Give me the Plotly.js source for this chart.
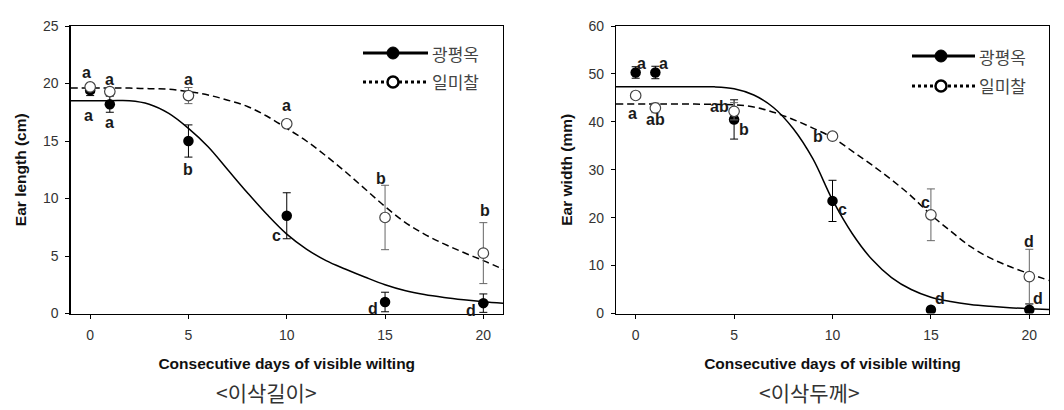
<!DOCTYPE html>
<html>
<head>
<meta charset="utf-8">
<script src="https://cdn.plot.ly/plotly-3.0.1.min.js"></script>
<style>html,body{margin:0;padding:0;background:#fff;}#chart{width:1064px;height:410px;}</style>
</head>
<body>
<div id="chart"></div>
<script>
// ---------- data ----------
const days = [0, 1, 5, 10, 15, 20];
const seriesNames = ['광평옥', '일미찰'];

// Ear length (cm)
const lenKPO = [19.4, 18.2, 15.0, 8.5, 1.0, 0.9];
const lenKPOErr = [0.45, 0.7, 1.4, 2.0, 0.85, 0.8];
const lenIMC = [19.7, 19.3, 18.95, 16.5, 8.35, 5.25];
const lenIMCErr = [0.3, 0.3, 0.7, 0.3, 2.8, 2.65];
const lenKPOLetters = ['a', 'a', 'b', 'c', 'd', 'd'];
const lenIMCLetters = ['a', 'a', 'a', 'a', 'b', 'b'];

// Ear width (mm)
const widKPO = [50.3, 50.3, 40.5, 23.5, 0.8, 0.8];
const widKPOErr = [1.2, 1.3, 4.1, 4.3, 0.5, 1.2];
const widIMC = [45.5, 42.9, 42.2, 37.0, 20.6, 7.7];
const widIMCErr = [0.5, 1.0, 1.8, 0.6, 5.4, 5.7];
const widKPOLetters = ['a', 'a', 'b', 'c', 'd', 'd'];
const widIMCLetters = ['a', 'ab', 'ab', 'b', 'c', 'd'];

// fitted curves
const lenFitKPOx = [-1, 1, 2, 3, 4, 5, 6, 7, 8, 9, 10, 11, 12, 13, 14, 15, 16, 17, 18, 19, 20, 21];
const lenFitKPOy = [18.5, 18.5, 18.5, 18.2, 17.4, 16.1, 14.5, 12.5, 10.5, 8.6, 6.9, 5.6, 4.6, 3.85, 3.15, 2.5, 2.0, 1.65, 1.4, 1.2, 1.03, 0.9];
const lenFitIMCx = [-1, 1, 2, 3, 4, 5, 6, 7, 8, 9, 10, 11, 12, 13, 14, 15, 16, 17, 18, 19, 20, 21];
const lenFitIMCy = [19.6, 19.6, 19.6, 19.55, 19.5, 19.3, 19.0, 18.55, 18.0, 17.15, 16.1, 15.0, 13.7, 12.3, 10.8, 9.3, 7.95, 6.9, 6.05, 5.3, 4.6, 3.85];
const widFitKPOx = [-1, 1, 2, 3, 4, 5, 6, 7, 8, 9, 10, 11, 12, 13, 14, 15, 16, 17, 18, 19, 20, 21];
const widFitKPOy = [47.3, 47.3, 47.3, 47.3, 47.3, 46.9, 45.6, 43.0, 38.6, 32.3, 23.7, 16.7, 11.3, 7.5, 5.0, 3.4, 2.5, 1.9, 1.5, 1.2, 1.0, 0.85];
const widFitIMCx = [-1, 1, 2, 3, 4, 5, 6, 7, 8, 9, 10, 11, 12, 13, 14, 15, 16, 17, 18, 19, 20, 21];
const widFitIMCy = [43.7, 43.7, 43.7, 43.7, 43.65, 43.55, 43.1, 42.0, 40.5, 38.7, 36.7, 33.9, 31.0, 27.9, 24.5, 20.6, 17.2, 14.0, 11.6, 9.8, 8.3, 6.9];

// tick labels
const xTicks = [0, 5, 10, 15, 20];
const lenTicks = [0, 5, 10, 15, 20, 25];
const widTicks = [0, 10, 20, 30, 40, 50, 60];

// ---------- styling / layout helpers (not data) ----------
const lenKPOOff = [[-2,-25],[0,-18],[0,-28],[-10,-20],[-12,-6],[-12,-7]];
const lenIMCOff = [[-4,14],[0,12],[0,16],[0,18],[-4,39],[2,43]];
const widKPOOff = [[6,9],[8,9],[10,-10],[10,-9],[9,11],[9,11]];
const widIMCOff = [[-3,-18],[0,-12],[-15,5],[-15,0],[-5,12],[0,35]];

const FONT = 'Liberation Sans, Arial, sans-serif';
const KFONT = 'Noto Sans CJK KR, sans-serif';

function curve(x, y, xa, ya, dash) {
  return {x: x, y: y, xaxis: xa, yaxis: ya, mode: 'lines', type: 'scatter',
    line: {color: '#000', width: 1.5, shape: 'spline', smoothing: 1, dash: dash},
    hoverinfo: 'skip', showlegend: false};
}
function pts(y, err, xa, ya, filled, name) {
  return {x: days, y: y, xaxis: xa, yaxis: ya, mode: 'markers', type: 'scatter', name: name,
    marker: {size: 10.5, color: filled ? '#000' : '#fff', line: {color: filled ? '#000' : '#444', width: filled ? 0 : 1.2}},
    error_y: {type: 'data', array: err, visible: true, color: filled ? '#000' : '#666', thickness: 1, width: 4},
    showlegend: false};
}
const traces = [
  curve(lenFitKPOx, lenFitKPOy, 'x', 'y', 'solid'),
  curve(lenFitIMCx, lenFitIMCy, 'x', 'y', '7px,4px'),
  pts(lenKPO, lenKPOErr, 'x', 'y', true, seriesNames[0]),
  pts(lenIMC, lenIMCErr, 'x', 'y', false, seriesNames[1]),
  curve(widFitKPOx, widFitKPOy, 'x2', 'y2', 'solid'),
  curve(widFitIMCx, widFitIMCy, 'x2', 'y2', '7px,4px'),
  pts(widKPO, widKPOErr, 'x2', 'y2', true, seriesNames[0]),
  pts(widIMC, widIMCErr, 'x2', 'y2', false, seriesNames[1])
];

const annotations = [];
function letters(vals, labs, offs, xr, yr) {
  for (let i = 0; i < days.length; i++) {
    annotations.push({x: days[i], y: vals[i], xref: xr, yref: yr, text: labs[i], showarrow: false,
      xshift: offs[i][0], yshift: offs[i][1], xanchor: 'center', yanchor: 'middle',
      font: {family: FONT, size: 16, color: '#1a1a1a', weight: 'bold'}});
  }
}
letters(lenKPO, lenKPOLetters, lenKPOOff, 'x', 'y');
letters(lenIMC, lenIMCLetters, lenIMCOff, 'x', 'y');
letters(widKPO, widKPOLetters, widKPOOff, 'x2', 'y2');
letters(widIMC, widIMCLetters, widIMCOff, 'x2', 'y2');

// captions
annotations.push({x: 266/1064, y: 1 - 392/410, xref: 'paper', yref: 'paper', text: '<이삭길이>', showarrow: false,
  xanchor: 'center', yanchor: 'middle', font: {family: KFONT, size: 21, color: '#333'}});
annotations.push({x: 809/1064, y: 1 - 392/410, xref: 'paper', yref: 'paper', text: '<이삭두께>', showarrow: false,
  xanchor: 'center', yanchor: 'middle', font: {family: KFONT, size: 21, color: '#333'}});

// custom legends (paper coordinates)
const shapes = [];
function legend(x0, x1, xm, y1, y2) {
  const px = v => v / 1064, py = v => 1 - v / 410;
  shapes.push({type: 'line', xref: 'paper', yref: 'paper', x0: px(x0), x1: px(x1), y0: py(y1), y1: py(y1), line: {color: '#000', width: 3}});
  shapes.push({type: 'circle', xref: 'paper', yref: 'paper', xsizemode: 'pixel', ysizemode: 'pixel',
    xanchor: px(xm), yanchor: py(y1), x0: -6, x1: 6, y0: -6, y1: 6, fillcolor: '#000', line: {color: '#000', width: 1}});
  shapes.push({type: 'line', xref: 'paper', yref: 'paper', x0: px(x0), x1: px(x1), y0: py(y2), y1: py(y2), line: {color: '#000', width: 3, dash: 'dot'}});
  shapes.push({type: 'circle', xref: 'paper', yref: 'paper', xsizemode: 'pixel', ysizemode: 'pixel',
    xanchor: px(xm), yanchor: py(y2), x0: -5.5, x1: 5.5, y0: -5.5, y1: 5.5, fillcolor: '#fff', line: {color: '#000', width: 2.5}});
  annotations.push({x: px(x1 + 2), y: py(y1), xref: 'paper', yref: 'paper', text: seriesNames[0], showarrow: false,
    xanchor: 'left', yanchor: 'middle', font: {family: KFONT, size: 17, color: '#444'}});
  annotations.push({x: px(x1 + 2), y: py(y2), xref: 'paper', yref: 'paper', text: seriesNames[1], showarrow: false,
    xanchor: 'left', yanchor: 'middle', font: {family: KFONT, size: 17, color: '#444'}});
}
legend(363, 428, 393, 53, 82);
legend(912, 975, 941, 56, 86);

function xax(domain, anchor) {
  return {domain: domain, anchor: anchor, range: [-1, 21], tickvals: xTicks, ticktext: xTicks.map(String),
    showline: true, linecolor: '#000', linewidth: 1.2, mirror: true, ticks: 'outside', ticklen: 4, tickwidth: 1,
    tickcolor: '#000', showgrid: false, zeroline: false, ticklabelstandoff: 4,
    tickfont: {family: FONT, size: 14, color: '#333'},
    title: {text: 'Consecutive days of visible wilting', standoff: 16, font: {family: FONT, size: 15.5, color: '#111', weight: 'bold'}}};
}
function yax(anchor, range, ticks, title) {
  return {domain: [1 - 313.5/410, 1 - 26/410], anchor: anchor, range: range, tickvals: ticks, ticktext: ticks.map(String),
    showline: true, linecolor: '#000', linewidth: 1.2, mirror: true, ticks: 'outside', ticklen: 4, tickwidth: 1,
    tickcolor: '#000', showgrid: false, zeroline: false, ticklabelstandoff: 4,
    tickfont: {family: FONT, size: 14, color: '#333'},
    title: {text: title, standoff: 12, font: {family: FONT, size: 15.5, color: '#111', weight: 'bold'}}};
}

const layout = {
  width: 1064, height: 410,
  margin: {l: 0, r: 0, t: 0, b: 0, pad: 0},
  paper_bgcolor: '#fff', plot_bgcolor: '#fff',
  showlegend: false,
  xaxis: xax([70.5/1064, 503/1064], 'y'),
  yaxis: yax('x', [0, 25], lenTicks, 'Ear length (cm)'),
  xaxis2: xax([616/1064, 1049/1064], 'y2'),
  yaxis2: yax('x2', [0, 60], widTicks, 'Ear width (mm)'),
  annotations: annotations,
  shapes: shapes
};

Plotly.newPlot('chart', traces, layout, {displayModeBar: false, staticPlot: true});
</script>
</body>
</html>
